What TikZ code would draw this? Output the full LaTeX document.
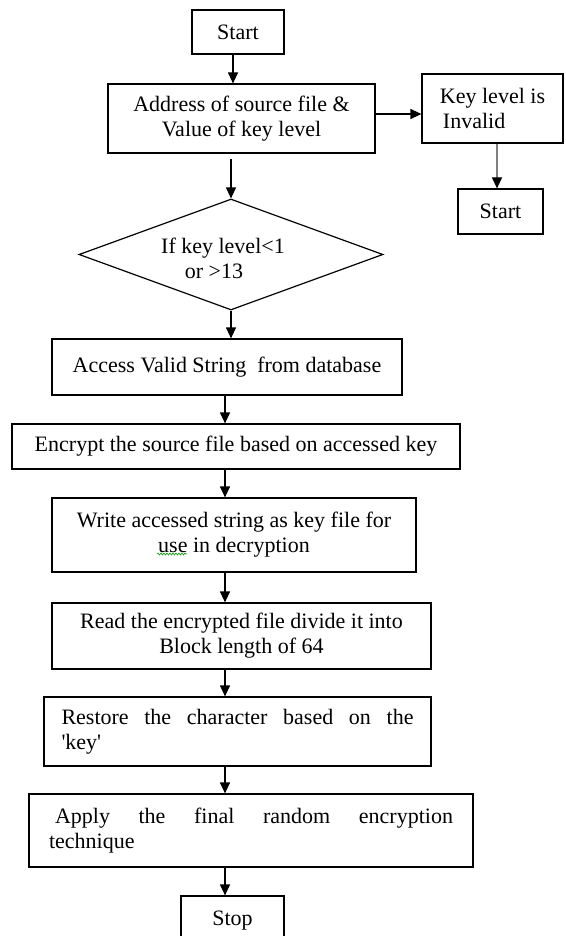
\documentclass[tikz,border=0pt]{standalone}
\usepackage{fontspec}
\setmainfont{Liberation Serif}
\usetikzlibrary{arrows.meta,shapes.geometric,decorations.pathmorphing}
\begin{document}
\begin{tikzpicture}[x=1pt,y=-1pt,
 box/.style={draw,line width=1.2pt,rectangle,inner sep=0pt,align=center,font=\fontsize{22}{25}\selectfont},
 decbox/.style={draw,line width=1.2pt,diamond,inner sep=0pt},
 txt/.style={inner sep=0pt,align=center,font=\fontsize{22}{25}\selectfont},
 arr/.style={line width=1.2pt,-{Triangle[length=11pt,width=10pt]}},
 garr/.style={line width=1.2pt,draw=gray,-{Triangle[length=11pt,width=10pt,color=black]}},
 squig/.style={green!60!black,line width=0.6pt,decorate,decoration={snake,amplitude=1pt,segment length=3pt}}
]
\useasboundingbox (0,0) rectangle (565,936);
\clip (0,0) rectangle (565,936);

\node[box,minimum width=92pt,minimum height=44pt] (start) at (238,32) {Start};
\node[box,minimum width=267pt,minimum height=69pt] (addr) at (241.5,118.5) {Address of source file \&\\Value of key level};
\node[box,align=left,minimum width=141pt,minimum height=69pt] (key) at (492.5,108.5) {Key level is\\\hspace*{3pt}Invalid};
\node[box,minimum width=85pt,minimum height=45pt] (start2) at (500.5,211.5) {Start};
\node[decbox,minimum width=304pt,minimum height=111pt] (dec) at (231,254.5) {};
\node[txt] (dectext) at (214,258) {\hspace*{18pt}If key level<1\\or >13};
\node[box,minimum width=350pt,minimum height=56pt] (access) at (227,367) {Access Valid String\ \ from database};
\node[box,minimum width=448pt,minimum height=45pt] (encrypt) at (236,446.5) {Encrypt the source file based on accessed key};
\node[box,minimum width=364pt,minimum height=74pt] (write) at (234,535) {Write accessed string as key file for\\use in decryption};
\node[box,minimum width=379pt,minimum height=66pt] (read) at (241.5,636) {Read the encrypted file divide it into\\Block length of 64};
\node[box,align=left,minimum width=387pt,minimum height=69pt] (restore) at (237.5,731.5) {\makebox[352pt][s]{Restore the character based on the}\\\textquotesingle key\textquotesingle};
\node[box,align=left,minimum width=444pt,minimum height=73pt] (apply) at (251,830.5) {\hspace*{6pt}\makebox[398pt][s]{Apply the final random encryption}\\technique};
\node[box,minimum width=103pt,minimum height=50pt] (stop) at (232.5,921) {Stop};

\coordinate (ca) at (233,0);
\coordinate (cc) at (225,0);
\coordinate (ck) at (497,0);
\coordinate (cy) at (0,114);

\draw[arr] (start.south -| ca) -- (addr.north -| ca);
\draw[arr] (addr.east |- cy) -- (key.west |- cy);
\draw[garr] (key.south -| ck) -- (start2.north -| ck);
\draw[arr,shorten <=5pt] (addr.south -| dec.north) -- (dec.north);
\draw[arr] (dec.south) -- (access.north -| dec.south);
\draw[arr] (access.south -| cc) -- (encrypt.north -| cc);
\draw[arr] (encrypt.south -| cc) -- (write.north -| cc);
\draw[arr] (write.south -| cc) -- (read.north -| cc);
\draw[arr] (read.south -| cc) -- (restore.north -| cc);
\draw[arr] (restore.south -| cc) -- (apply.north -| cc);
\draw[arr] (apply.south -| cc) -- (stop.north -| cc);

\draw[squig] (157,554) -- (187,554);
\end{tikzpicture}
\end{document}
